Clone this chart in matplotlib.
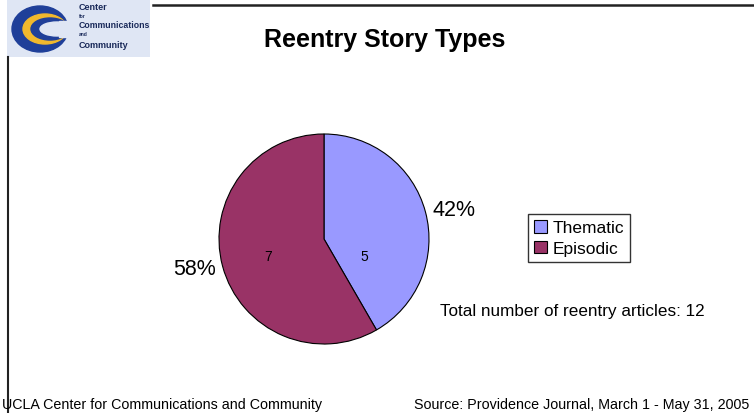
import matplotlib.pyplot as plt
from matplotlib.patches import Rectangle, Ellipse

# Story type counts
story_types = ["Thematic", "Episodic"]
article_counts = [5, 7]
slice_colors = ["#9999FF", "#993366"]
total_articles = sum(article_counts)

W, H = 754, 414
fig = plt.figure(figsize=(W / 100, H / 100), dpi=100)
fig.patch.set_facecolor("white")
plt.rcParams["font.family"] = ["Liberation Sans", "DejaVu Sans"]


def px(x, y):
    # pixel position (from top-left) -> figure fraction
    return x / W, 1 - y / H


# frame lines
fig.add_artist(plt.Line2D([153 / W, 753 / W], [1 - 6 / H, 1 - 6 / H],
                          color="#222222", lw=1.8, transform=fig.transFigure))
fig.add_artist(plt.Line2D([8 / W, 8 / W], [1 - 58 / H, 0],
                          color="#222222", lw=1.5, transform=fig.transFigure))

# logo in the corner
logo = fig.add_axes([7 / W, 1 - 58 / H, 143 / W, 58 / H])
logo.set_xlim(0, 143)
logo.set_ylim(58, 0)
logo.axis("off")
logo.add_patch(Rectangle((0, 0), 143, 58, color="#dfe6f4"))
logo.add_patch(Ellipse((33, 30), 56, 46, color="#1f3f99"))
logo.add_patch(Ellipse((38, 30), 44, 30, color="#f1b82d"))
logo.add_patch(Ellipse((43, 30), 38, 22, color="#1f3f99"))
logo.add_patch(Ellipse((50, 30), 34, 14, color="#dfe6f4"))
logo.add_patch(Rectangle((52, 22), 14, 16, color="#dfe6f4"))
for txt, y, fs in [("Center", 8, 6.5), ("for", 16, 3.5), ("Communications", 25, 6.3),
                   ("and", 34, 3.5), ("Community", 45, 6.5)]:
    logo.text(72, y, txt, fontsize=fs, fontweight="bold", color="#1a2a5a",
              va="center", ha="left")

# title
fig.text(*px(385, 40), "Reentry Story Types", fontsize=18, fontweight="bold",
         ha="center", va="center")

# pie
ax = fig.add_axes([219 / W, 1 - 345 / H, 210 / W, 210 / H])
wedges, texts = ax.pie(article_counts, colors=slice_colors, startangle=90,
                       counterclock=False, labels=[f"{c / total_articles:.0%}" for c in article_counts],
                       labeldistance=1.07, radius=1,
                       wedgeprops=dict(edgecolor="black", linewidth=0.8),
                       textprops=dict(fontsize=15.5))
ax.set_xlim(-1, 1)
ax.set_ylim(-1, 1)
ax.set_aspect("equal")

# counts inside slices
ax.text(0.38, -0.16, str(article_counts[0]), fontsize=10, ha="center", va="center")
ax.text(-0.53, -0.16, str(article_counts[1]), fontsize=10, ha="center", va="center")

# legend
fig.legend(wedges, story_types, loc="upper left", bbox_to_anchor=px(528, 215),
           fontsize=12.5, frameon=True, fancybox=False, edgecolor="black",
           handlelength=0.75, handleheight=0.75, handletextpad=0.3,
           borderpad=0.35, labelspacing=0.3, borderaxespad=0)

fig.text(*px(440, 312), f"Total number of reentry articles: {total_articles}",
         fontsize=12.3, ha="left", va="center")

# footer
fig.text(*px(2, 405), "UCLA Center for Communications and Community",
         fontsize=10.3, ha="left", va="center")
fig.text(*px(749, 405), "Source: Providence Journal, March 1 - May 31, 2005",
         fontsize=10.3, ha="right", va="center")

fig.savefig("out.png", dpi=100)
